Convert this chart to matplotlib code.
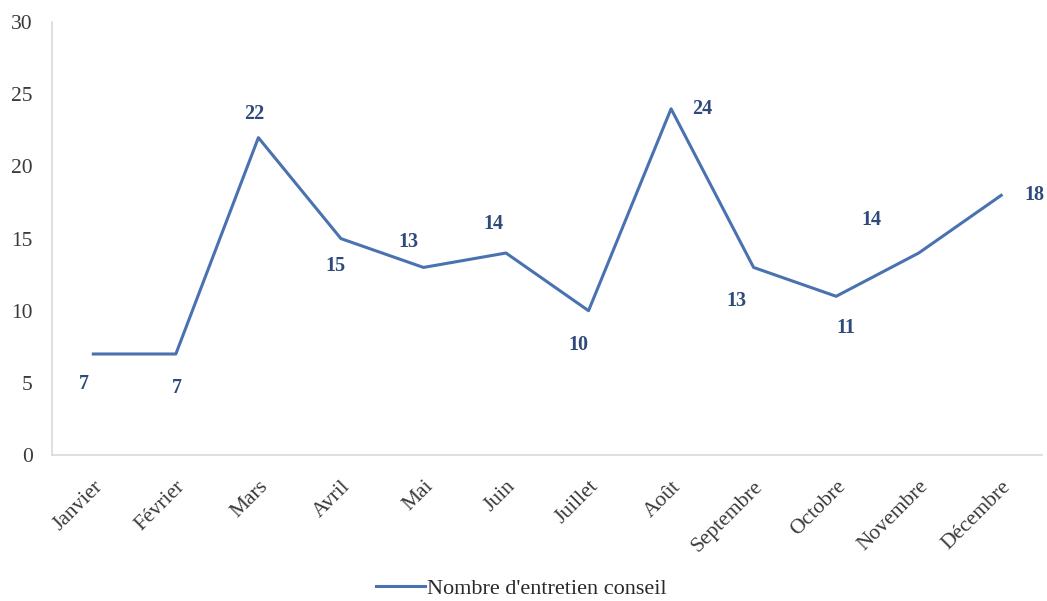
import matplotlib
matplotlib.use("Agg")
import matplotlib.pyplot as plt

# ===== Data =====
mois = ["Janvier", "Février", "Mars", "Avril", "Mai", "Juin", "Juillet",
        "Août", "Septembre", "Octobre", "Novembre", "Décembre"]
entretiens = [7, 7, 22, 15, 13, 14, 10, 24, 13, 11, 14, 18]

# label offsets (pixels) relative to each point
label_dx = [-9, 1, -4, -5, -15, -13, -10, 31, -17, 10, -47, 33]
label_dy = [-30, -34, 24, -27, 25, 29, -34, 0, -34, -32, 33, 0]

plt.rcParams["font.family"] = ["Liberation Serif", "DejaVu Serif"]

fig = plt.figure(figsize=(10.47, 6.01), dpi=100)
ax = fig.add_axes([0.0497, 0.243, 0.946, 0.72])

x = list(range(len(mois)))
ax.plot(x, entretiens, color="#4a72b0", lw=2.2, label="Nombre d'entretien conseil")

for xi, v, dx, dy in zip(x, entretiens, label_dx, label_dy):
    ax.annotate(str(v), (xi, v), xytext=(dx, dy), textcoords="offset pixels",
                ha="center", va="center", fontsize=14.5, fontweight="bold",
                color="#2e4a7a")

ax.set_xlim(-0.5, len(mois) - 0.5)
ax.set_ylim(0, 30)
ax.set_yticks([0, 5, 10, 15, 20, 25, 30])
ax.set_xticks(x)
ax.set_xticklabels(mois, rotation=45, ha="right", rotation_mode="anchor")
ax.tick_params(axis="both", length=0, labelsize=15.5, colors="#3a3a3a")
ax.tick_params(axis="y", pad=14)
ax.tick_params(axis="x", pad=16)

for side in ["top", "right"]:
    ax.spines[side].set_visible(False)
for side in ["left", "bottom"]:
    ax.spines[side].set_color("#d9d9d9")
    ax.spines[side].set_linewidth(1.2)

fig.legend(loc="lower center", bbox_to_anchor=(0.498, -0.03), frameon=False,
           fontsize=16, handlelength=2.2, handletextpad=0.1,
           labelcolor="#2a2a2a")

fig.savefig("out.png", dpi=100)
